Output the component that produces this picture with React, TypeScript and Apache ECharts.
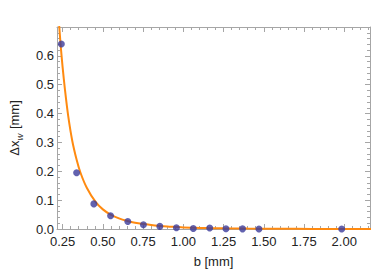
import React, { useEffect, useRef } from "react";
import * as echarts from "echarts";

// Measured data points (b [mm], Δx_w [mm])
const pointB = [0.242, 0.337, 0.444, 0.548, 0.655, 0.752, 0.854, 0.957, 1.062, 1.164, 1.265, 1.368, 1.47, 1.984];
const pointDx = [0.641, 0.195, 0.087, 0.046, 0.026, 0.015, 0.009, 0.0045, 0.002, 0.0035, 0.001, 0.0005, 0.0, 0.0];

// Fit curve
const curveB = [0.212, 0.22, 0.226, 0.232, 0.238, 0.25, 0.265, 0.285, 0.31, 0.337, 0.361, 0.4, 0.457, 0.5, 0.545, 0.6, 0.653, 0.7, 0.755, 0.8, 0.854, 0.9, 0.95, 1.0, 1.06, 1.15, 1.25, 1.4, 1.6, 1.8, 2.0, 2.2];
const curveDx = [0.858, 0.779, 0.726, 0.679, 0.635, 0.56, 0.48, 0.39, 0.305, 0.24, 0.195, 0.143, 0.092, 0.068, 0.051, 0.037, 0.028, 0.022, 0.017, 0.0135, 0.0105, 0.0085, 0.007, 0.0055, 0.0045, 0.0032, 0.0022, 0.0013, 0.0007, 0.0004, 0.0002, 0.0001];

// Tick positions / labels
const xMajorTicks = [0.25, 0.5, 0.75, 1.0, 1.25, 1.5, 1.75, 2.0];
const xMinorTicks = [0.3, 0.35, 0.4, 0.45, 0.55, 0.6, 0.65, 0.7, 0.8, 0.85, 0.9, 0.95, 1.05, 1.1, 1.15, 1.2, 1.3, 1.35, 1.4, 1.45, 1.55, 1.6, 1.65, 1.7, 1.8, 1.85, 1.9, 1.95, 2.05, 2.1, 2.15];
const yTickLabels = ["0.0", "0.1", "0.2", "0.3", "0.4", "0.5", "0.6"];

const X_MIN = 0.215;
const X_MAX = 2.16;
const Y_MIN = 0;
const Y_MAX = 0.7;

const FRAME = "#a6a6a6";
const FONT = "Liberation Sans, Arial, sans-serif";
const LABEL = "#222";

export default function App() {
  const ref = useRef<HTMLDivElement>(null);
  useEffect(() => {
    if (!ref.current) return;
    document.body.style.margin = "0";
    const chart = echarts.init(ref.current, undefined, { renderer: "svg" });

    const xBase = (position: "top" | "bottom", ticks: number[], len: number, labels: boolean, line: boolean) => ({
      type: "value",
      position,
      min: X_MIN,
      max: X_MAX,
      axisLine: { show: line, onZero: false, lineStyle: { color: FRAME, width: 1 } },
      axisTick: { show: true, inside: true, length: len, customValues: ticks, lineStyle: { color: FRAME, width: 1 } },
      axisLabel: labels
        ? {
            show: true,
            customValues: xMajorTicks,
            formatter: (v: number) => v.toFixed(2),
            margin: 6,
            fontSize: 13,
            color: LABEL,
            fontFamily: FONT,
          }
        : { show: false },
      splitLine: { show: false },
    });

    const yBase = (position: "left" | "right", labels: boolean) => ({
      type: "value",
      position,
      min: Y_MIN,
      max: Y_MAX,
      interval: 0.1,
      axisLine: { show: true, onZero: false, lineStyle: { color: FRAME, width: 1 } },
      axisTick: { show: true, inside: true, length: 5, lineStyle: { color: FRAME, width: 1 } },
      minorTick: { show: true, splitNumber: 5, length: 3, lineStyle: { color: FRAME, width: 1 } },
      axisLabel: labels
        ? {
            show: true,
            formatter: (v: number) => yTickLabels[Math.round(v * 10)] ?? "",
            margin: 3,
            fontSize: 13,
            color: LABEL,
            fontFamily: FONT,
            showMaxLabel: false,
          }
        : { show: false },
      splitLine: { show: false },
      minorSplitLine: { show: false },
    });

    const xMain: any = xBase("bottom", xMajorTicks, 5, true, true);
    xMain.name = "b [mm]";
    xMain.nameLocation = "middle";
    xMain.nameGap = 26;
    xMain.nameTextStyle = { fontSize: 13, color: LABEL, fontFamily: FONT };

    const yMain: any = yBase("left", true);
    yMain.name = "{m|Δx}{s|w}{m| [mm]}";
    yMain.nameLocation = "middle";
    yMain.nameGap = 33;
    yMain.nameRotate = 90;
    yMain.nameTextStyle = {
      color: LABEL,
      fontFamily: FONT,
      rich: {
        m: { fontSize: 13, color: LABEL, fontFamily: FONT, lineHeight: 17, verticalAlign: "bottom", padding: [0, 0, 3, 0] },
        s: { fontSize: 9.5, color: LABEL, fontFamily: FONT, fontStyle: "italic", lineHeight: 17, verticalAlign: "bottom", padding: [0, 1, 0, 0] },
      },
    };

    const option: any = {
      animation: false,
      grid: { left: 42, right: 4, top: 27, bottom: 51, containLabel: false },
      xAxis: [
        xMain,
        xBase("bottom", xMinorTicks, 3, false, false),
        xBase("top", xMajorTicks, 5, false, true),
        xBase("top", xMinorTicks, 3, false, false),
      ],
      yAxis: [yMain, yBase("right", false)],
      series: [
        {
          type: "line",
          xAxisIndex: 0,
          yAxisIndex: 0,
          data: curveB.map((b, i) => [b, curveDx[i]]),
          smooth: 0.3,
          showSymbol: false,
          clip: true,
          lineStyle: { color: "#ff8a10", width: 2 },
          z: 2,
        },
        {
          type: "scatter",
          xAxisIndex: 0,
          yAxisIndex: 0,
          data: pointB.map((b, i) => [b, pointDx[i]]),
          symbol: "circle",
          symbolSize: 7,
          itemStyle: { color: "#3b3b9b" },
          clip: false,
          z: 3,
        },
      ],
    };
    chart.setOption(option);
    return () => chart.dispose();
  }, []);
  return <div ref={ref} style={{ width: 374, height: 280 }} />;
}
